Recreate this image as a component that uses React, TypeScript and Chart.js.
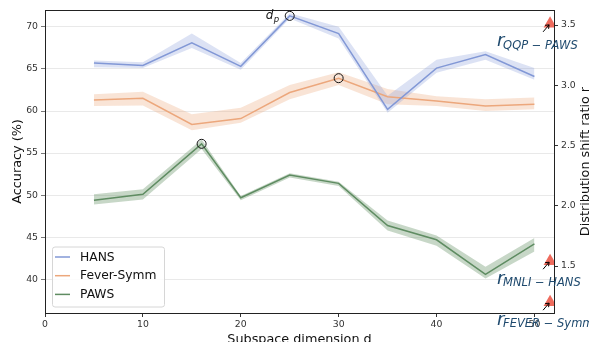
import { useEffect, useRef } from "react";
import { Chart, registerables } from "chart.js";
Chart.register(...registerables);

// ---- data ----
const dims = [5, 10, 15, 20, 25, 30, 35, 40, 45, 50];
const pawsDims = [5, 10, 16, 20, 25, 30, 35, 40, 45, 50];

const hansMean = [65.7, 65.4, 68.1, 65.3, 71.3, 69.2, 60.2, 65.1, 66.7, 64.1];
const hansLow = [65.2, 65.1, 67.5, 64.9, 71.0, 68.6, 59.8, 64.55, 66.1, 63.7];
const hansHigh = [66.0, 65.8, 69.2, 65.7, 71.6, 70.0, 61.8, 66.1, 67.1, 65.1];

const feverMean = [61.3, 61.5, 58.4, 59.1, 62.2, 63.9, 61.7, 61.2, 60.6, 60.8];
const feverLow = [60.6, 60.65, 57.7, 58.6, 61.4, 63.1, 60.8, 60.6, 60.0, 60.2];
const feverHigh = [62.0, 62.3, 59.6, 60.4, 63.1, 64.6, 62.6, 61.75, 61.4, 61.6];

const pawsMean = [49.4, 50.1, 56.1, 49.7, 52.4, 51.4, 46.4, 44.7, 40.6, 44.2];
const pawsLow = [48.9, 49.5, 55.5, 49.4, 52.1, 51.1, 45.8, 44.0, 40.1, 43.3];
const pawsHigh = [50.1, 50.7, 56.6, 49.9, 52.6, 51.6, 47.0, 45.2, 41.5, 44.9];

const peakDims = [25, 30, 16];
const peakAcc = [71.3, 63.9, 56.1];

const ratioDims = [51.6, 51.6, 51.6];
const ratios = [3.51, 1.54, 1.2];
const ratioLabels = ["QQP \u2212 PAWS", "MNLI \u2212 HANS", "FEVER \u2212 Symm"];

const seriesNames = ["HANS", "Fever-Symm", "PAWS"];

const xTicksMin = 0, xTicksMax = 52;
const yMin = 36, yMax = 72;
const y2Min = 1.11, y2Max = 3.625;

// ---- styles ----
const lineColors = ["#8298d6", "#eca77c", "#5f8c62"];
const bandColors = ["rgba(130,150,215,0.28)", "rgba(235,165,120,0.3)", "rgba(95,140,95,0.35)"];
const FONT = "'DejaVu Sans', sans-serif";
const annColor = "#1f4a6e";

const pts = (xs: number[], ys: number[]) => xs.map((x, i) => ({ x, y: ys[i] }));

const keepMultiples = (step: number) => (scale: any) => {
  scale.ticks = scale.ticks.filter((t: any) => Math.abs(t.value / step - Math.round(t.value / step)) < 1e-6);
};

const extras = {
  id: "extras",
  afterDraw(chart: any) {
    const ctx = chart.ctx as CanvasRenderingContext2D;
    const { left, right, top, bottom } = chart.chartArea;
    const xs = chart.scales.x, ys = chart.scales.y, y2 = chart.scales.y2;
    ctx.save();
    // top frame line
    ctx.strokeStyle = "#222";
    ctx.lineWidth = 1;
    ctx.beginPath();
    ctx.moveTo(left, top + 0.5);
    ctx.lineTo(right, top + 0.5);
    ctx.stroke();

    // axis titles
    ctx.fillStyle = "#111";
    ctx.font = `12.8px ${FONT}`;
    ctx.textAlign = "center";
    ctx.textBaseline = "alphabetic";
    ctx.fillText("Subspace dimension d", (left + right) / 2, 342.5);
    ctx.save();
    ctx.translate(21, (top + bottom) / 2);
    ctx.rotate(-Math.PI / 2);
    ctx.fillText("Accuracy (%)", 0, 0);
    ctx.restore();
    ctx.save();
    ctx.translate(589, (top + bottom) / 2);
    ctx.rotate(-Math.PI / 2);
    ctx.fillText("Distribution shift ratio r", 0, 0);
    ctx.restore();

    // d_p annotation
    const cx = xs.getPixelForValue(peakDims[0]);
    const cy = ys.getPixelForValue(peakAcc[0]);
    ctx.textAlign = "left";
    ctx.fillStyle = "#111";
    ctx.font = `italic 12px ${FONT}`;
    ctx.fillText("d", cx - 24, cy + 3);
    ctx.font = `italic 8.5px ${FONT}`;
    ctx.fillText("p", cx - 16, cy + 6);

    // ratio annotations
    for (let i = 0; i < ratios.length; i++) {
      const tx = xs.getPixelForValue(ratioDims[i]);
      const ty = y2.getPixelForValue(ratios[i]);
      // arrow
      ctx.strokeStyle = "#000";
      ctx.lineWidth = 1;
      const ax = tx - 7, ay = ty + 8, hx = tx - 1, hy = ty + 1;
      ctx.beginPath();
      ctx.moveTo(ax, ay);
      ctx.lineTo(hx, hy);
      ctx.moveTo(hx, hy);
      ctx.lineTo(hx - 4, hy + 0.5);
      ctx.moveTo(hx, hy);
      ctx.lineTo(hx - 0.5, hy + 4);
      ctx.stroke();
      // label
      ctx.fillStyle = annColor;
      ctx.font = `italic 18px ${FONT}`;
      ctx.fillText("r", tx - 53, ty + 22.5);
      ctx.font = `italic 11.5px ${FONT}`;
      ctx.fillText(ratioLabels[i], tx - 47, ty + 25);
    }

    // legend
    const lx = 52, ly = 246.5, lw = 112, lh = 60;
    ctx.fillStyle = "rgba(255,255,255,0.85)";
    ctx.strokeStyle = "#d6d6d6";
    ctx.lineWidth = 1;
    ctx.beginPath();
    (ctx as any).roundRect(lx + 0.5, ly + 0.5, lw, lh, 2.5);
    ctx.fill();
    ctx.stroke();
    ctx.font = `12.3px ${FONT}`;
    ctx.textBaseline = "middle";
    for (let i = 0; i < seriesNames.length; i++) {
      const rowY = 257 + i * 18.7;
      ctx.strokeStyle = lineColors[i];
      ctx.lineWidth = 1.5;
      ctx.beginPath();
      ctx.moveTo(55, rowY);
      ctx.lineTo(70, rowY);
      ctx.stroke();
      ctx.fillStyle = "#111";
      ctx.fillText(seriesNames[i], 80, rowY + 0.5);
    }
    ctx.restore();
  },
};

export default function App() {
  const ref = useRef<HTMLCanvasElement | null>(null);
  useEffect(() => {
    if (!ref.current) return;
    const means = [hansMean, feverMean, pawsMean];
    const lows = [hansLow, feverLow, pawsLow];
    const highs = [hansHigh, feverHigh, pawsHigh];
    const xsets = [dims, dims, pawsDims];
    const datasets: any[] = [];
    for (let i = 0; i < 3; i++) {
      datasets.push({
        label: seriesNames[i] + " high",
        data: pts(xsets[i], highs[i]),
        borderWidth: 0,
        borderColor: "rgba(0,0,0,0)",
        pointRadius: 0,
        fill: false,
        order: 3,
        yAxisID: "y",
      });
      datasets.push({
        label: seriesNames[i] + " low",
        data: pts(xsets[i], lows[i]),
        borderWidth: 0,
        borderColor: "rgba(0,0,0,0)",
        backgroundColor: bandColors[i],
        pointRadius: 0,
        fill: "-1",
        order: 3,
        yAxisID: "y",
      });
    }
    for (let i = 0; i < 3; i++) {
      datasets.push({
        label: seriesNames[i],
        data: pts(xsets[i], means[i]),
        borderColor: lineColors[i],
        borderWidth: 1.5,
        pointRadius: 0,
        fill: false,
        tension: 0,
        order: 2,
        yAxisID: "y",
      });
    }
    datasets.push({
      label: "peaks",
      data: pts(peakDims, peakAcc),
      showLine: false,
      pointStyle: "circle",
      pointRadius: 4.5,
      pointBorderColor: "#111",
      pointBorderWidth: 1,
      pointBackgroundColor: "rgba(0,0,0,0)",
      order: 1,
      yAxisID: "y",
    });
    datasets.push({
      label: "ratios",
      data: pts(ratioDims, ratios),
      showLine: false,
      pointStyle: "triangle",
      pointRadius: 7.5,
      pointBorderWidth: 0,
      pointBorderColor: "#ee6b5d",
      pointBackgroundColor: "#ee6b5d",
      order: 0,
      yAxisID: "y2",
    });

    const tickFont = { family: FONT, size: 9.3 };
    const chart = new Chart(ref.current, {
      type: "line",
      data: { datasets },
      plugins: [extras],
      options: {
        animation: false,
        responsive: true,
        maintainAspectRatio: false,
        layout: { padding: { top: 10, left: 0, right: 0, bottom: 0 } },
        plugins: { legend: { display: false }, tooltip: { enabled: false }, title: { display: false } },
        scales: {
          x: {
            type: "linear",
            min: xTicksMin,
            max: xTicksMax,
            ticks: { stepSize: 10, font: tickFont, color: "#333", padding: 2, maxRotation: 0 },
            grid: { drawOnChartArea: false, tickLength: 4, tickColor: "#333" },
            border: { color: "#222", width: 1 },
            afterBuildTicks: keepMultiples(10),
            afterFit: (s: any) => { s.height = 29; },
          },
          y: {
            type: "linear",
            position: "left",
            min: yMin,
            max: yMax,
            ticks: { stepSize: 5, font: tickFont, color: "#333", padding: 3 },
            grid: { color: "#e3e3e3", lineWidth: 0.8, tickLength: 4, tickColor: "#555" },
            border: { color: "#222", width: 1 },
            afterBuildTicks: keepMultiples(5),
            afterFit: (s: any) => { s.width = 45; },
          },
          y2: {
            type: "linear",
            position: "right",
            min: y2Min,
            max: y2Max,
            ticks: { stepSize: 0.5, font: tickFont, color: "#333", padding: 3, callback: (v: any) => Number(v).toFixed(1) },
            grid: { drawOnChartArea: false, tickLength: 4, tickColor: "#333" },
            border: { color: "#222", width: 1 },
            afterBuildTicks: keepMultiples(0.5),
            afterFit: (s: any) => { s.width = 35; },
          },
        },
      } as any,
    });
    return () => chart.destroy();
  }, []);
  return (
    <div style={{ position: "fixed", left: 0, top: 0, width: 589, height: 342, background: "#fff" }}>
      <canvas ref={ref} />
    </div>
  );
}
